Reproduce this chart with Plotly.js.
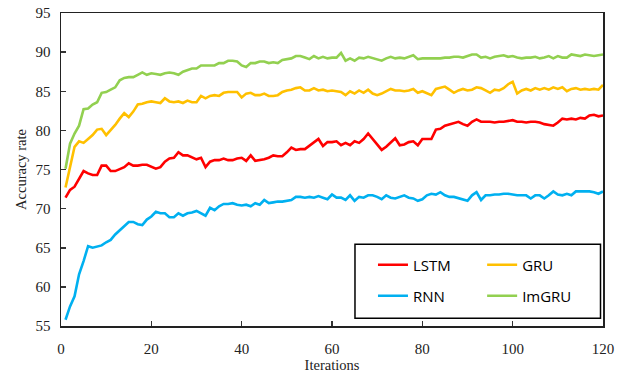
<!DOCTYPE html>
<html>
<head>
<meta charset="utf-8">
<script src="https://cdn.plot.ly/plotly-3.0.1.min.js"></script>
<style>html,body{margin:0;padding:0;background:#fff;}#chart{width:630px;height:376px;}</style>
</head>
<body>
<div id="chart"></div>
<script>
const seriesNames = ["LSTM", "GRU", "RNN", "ImGRU"];
const seriesColors = ["#FF0000", "#FFC000", "#00B0F0", "#92D050"];

const lstm = [71.4,72.4,72.8,73.9,74.8,74.5,74.3,74.3,75.5,75.5,74.8,74.8,75.1,75.3,75.8,75.5,75.5,75.6,75.6,75.3,
75.1,75.3,76.0,76.4,76.5,77.2,76.8,76.8,76.6,76.3,76.5,75.3,76.0,76.2,76.2,76.4,76.2,76.2,76.4,76.5,
76.1,76.8,76.1,76.2,76.3,76.5,76.8,76.7,76.7,77.2,77.8,77.5,77.6,77.6,78.0,78.5,78.9,78.0,78.5,78.5,
78.6,78.1,78.4,78.1,78.6,78.4,78.9,79.6,78.9,78.1,77.5,77.9,78.4,79.0,78.1,78.2,78.5,78.6,78.1,78.9,
78.9,78.9,80.1,80.2,80.6,80.8,81.0,81.1,80.8,80.6,81.1,81.4,81.1,81.1,81.1,81.0,81.1,81.1,81.2,81.3,
81.1,81.1,81.0,81.1,81.1,81.0,80.8,80.7,80.6,81.0,81.5,81.4,81.5,81.4,81.6,81.5,81.9,82.0,81.8,81.9];

const gru = [72.7,75.1,77.9,78.6,78.4,78.9,79.4,80.1,80.2,79.4,80.0,80.7,81.5,82.2,81.7,82.4,83.3,83.4,83.6,83.7,
83.6,83.5,84.1,83.7,83.6,83.7,83.5,83.8,83.6,83.6,84.4,84.1,84.4,84.5,84.4,84.8,84.9,84.9,84.9,84.2,
84.7,84.8,84.5,84.5,84.7,84.4,84.4,84.5,84.9,85.1,85.2,85.4,85.5,85.1,85.1,85.4,85.1,85.2,85.0,85.1,
85.0,84.9,84.5,85.0,84.7,85.1,84.8,85.2,84.7,84.5,84.7,85.0,85.3,85.1,85.1,85.0,85.1,85.3,84.8,85.0,
84.8,84.5,85.3,85.5,85.6,85.2,84.8,85.1,85.3,85.1,85.2,85.5,85.4,85.1,84.8,85.2,85.1,85.4,85.9,86.2,
84.7,85.1,85.3,85.1,85.4,85.2,85.4,85.2,85.5,85.3,85.5,85.0,85.3,85.4,85.2,85.3,85.2,85.3,85.2,85.8];

const rnn = [55.8,57.5,58.8,61.6,63.3,65.2,65.0,65.2,65.3,65.7,66.0,66.7,67.2,67.7,68.3,68.3,68.0,67.9,68.6,69.0,
69.6,69.4,69.4,68.9,68.9,69.4,69.1,69.4,69.5,69.7,69.4,69.1,70.1,69.8,70.3,70.6,70.6,70.7,70.5,70.4,
70.5,70.3,70.7,70.5,71.1,70.7,70.8,70.9,70.9,71.0,71.1,71.5,71.5,71.4,71.5,71.4,71.6,71.4,71.2,71.8,
71.4,71.4,71.1,71.7,71.0,71.5,71.4,71.7,71.7,71.5,71.2,71.7,71.4,71.3,71.5,71.7,71.4,71.3,71.0,71.2,
71.7,71.9,71.8,72.1,71.7,71.5,71.5,71.3,71.2,71.0,71.7,72.1,71.1,71.7,71.7,71.8,71.8,71.9,71.9,71.8,
71.7,71.7,71.7,71.3,71.7,71.7,71.3,71.7,72.2,71.8,71.7,71.9,71.7,72.2,72.2,72.2,72.2,72.1,71.9,72.2];

const imgru = [75.1,78.3,79.6,80.6,82.7,82.8,83.3,83.6,84.8,84.9,85.2,85.5,86.4,86.7,86.8,86.8,87.1,87.4,87.1,87.3,
87.2,87.1,87.3,87.4,87.3,87.1,87.5,87.7,87.9,87.9,88.3,88.3,88.3,88.3,88.6,88.6,88.9,88.9,88.8,88.3,
88.1,88.6,88.6,88.8,88.8,88.6,88.7,88.6,89.0,89.1,89.2,89.5,89.5,89.3,89.1,89.5,89.2,89.4,89.2,89.3,
89.3,89.9,88.9,89.2,88.9,89.3,89.2,89.4,89.2,89.0,88.9,89.2,89.4,89.2,89.3,89.2,89.4,89.6,89.1,89.2,
89.2,89.2,89.2,89.2,89.3,89.3,89.4,89.4,89.3,89.5,89.7,89.7,89.3,89.4,89.2,89.4,89.5,89.6,89.4,89.5,
89.3,89.2,89.3,89.3,89.4,89.2,89.3,89.5,89.2,89.5,89.3,89.3,89.7,89.6,89.5,89.7,89.6,89.5,89.6,89.7];

const iterations = lstm.map((_, i) => i + 1);
const xTickVals = [0, 20, 40, 60, 80, 100, 120];
const yTickVals = [55, 60, 65, 70, 75, 80, 85, 90, 95];

const allSeries = [lstm, gru, rnn, imgru];
const legendIds = ["legend", "legend3", "legend2", "legend4"];

const traces = allSeries.map((ys, k) => ({
  type: "scatter", mode: "lines",
  x: iterations, y: ys,
  name: seriesNames[k],
  line: {color: seriesColors[k], width: 2.6},
  legend: legendIds[k]
}));

const legFont = {family: "Open Sans, sans-serif", size: 15, color: "#000"};
function leg(x, y) {
  return {x: x, y: y, xanchor: "left", yanchor: "middle", bgcolor: "rgba(0,0,0,0)",
          borderwidth: 0, font: legFont};
}

const serif = "Liberation Serif, Times New Roman, serif";

const layout = {
  width: 630, height: 376,
  margin: {l: 61, r: 27, t: 13, b: 50},
  paper_bgcolor: "#fff", plot_bgcolor: "#fff",
  showlegend: true,
  legend: leg(0.5756, 0.195),
  legend2: leg(0.5756, 0.096),
  legend3: leg(0.777, 0.195),
  legend4: leg(0.777, 0.096),
  xaxis: {
    range: [0, 120], tickvals: xTickVals, ticks: "inside", ticklen: 5, tickwidth: 1.5, tickcolor: "#333",
    showgrid: false, zeroline: false, showline: true, linecolor: "#222", linewidth: 1.5, mirror: true,
    tickfont: {family: serif, size: 15, color: "#222"},
    ticklabelstandoff: 8,
    title: {text: "Iterations", font: {family: serif, size: 14.5, color: "#222"}, standoff: 4}
  },
  yaxis: {
    range: [55, 95], tickvals: yTickVals, ticks: "inside", ticklen: 5, tickwidth: 1.5, tickcolor: "#333",
    showgrid: false, zeroline: false, showline: true, linecolor: "#222", linewidth: 1.5, mirror: true,
    tickfont: {family: serif, size: 15, color: "#222"},
    ticklabelstandoff: 6,
    title: {text: "Accuracy rate", font: {family: serif, size: 14.5, color: "#222"}, standoff: 5}
  },
  shapes: [{
    type: "rect", xref: "paper", yref: "paper", layer: "above",
    x0: 0.5424, x1: 0.9954, y0: 0.0246, y1: 0.261,
    line: {color: "#000", width: 1.5}, fillcolor: "#fff"
  }]
};

Plotly.newPlot("chart", traces, layout, {displayModeBar: false, staticPlot: true});
</script>
</body>
</html>
